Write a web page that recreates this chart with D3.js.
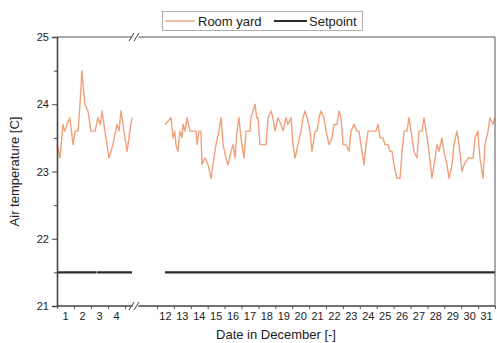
<!DOCTYPE html>
<html>
<head>
<meta charset="utf-8">
<script src="https://cdn.jsdelivr.net/npm/d3@7"></script>
<style>
  body { margin: 0; background: #fff; }
  text { font-family: "Liberation Sans", Arial, sans-serif; fill: #222; }
</style>
</head>
<body>
<figure id="chart" style="margin:0"></figure>
<script>
// Room yard temperature, December 1-5 (day number, value)
const roomDays1 = [1.00, 1.10, 1.18, 1.35, 1.45, 1.59, 1.76, 1.94, 2.06, 2.24, 2.35, 2.47, 2.56, 2.65, 2.82,
  3.00, 3.24, 3.41, 3.55, 3.65, 3.82, 4.06, 4.29, 4.53, 4.65, 4.76, 4.94, 5.12, 5.29, 5.41];
const roomTemp1 = [23.4, 23.3, 23.2, 23.7, 23.6, 23.7, 23.8, 23.4, 23.6, 23.6, 24.0, 24.5, 24.2, 24.0, 23.9,
  23.6, 23.6, 23.8, 23.7, 23.9, 23.6, 23.2, 23.4, 23.7, 23.6, 23.9, 23.6, 23.3, 23.6, 23.8];

// Room yard temperature, December 12-31
const roomDays2 = [12.47, 12.83, 12.95, 13.05, 13.12, 13.24, 13.36, 13.48, 13.54, 13.66, 13.78, 13.95, 14.31, 14.37,
  14.48, 14.60, 14.66, 14.84, 15.02, 15.20, 15.31, 15.49, 15.67, 15.79, 15.91, 16.08, 16.20, 16.38, 16.50, 16.62,
  16.73, 16.85, 16.97, 17.15, 17.27, 17.50, 17.56, 17.68, 17.80, 17.90, 17.98, 18.09, 18.27, 18.45, 18.57, 18.75,
  18.86, 18.98, 19.16, 19.34, 19.46, 19.63, 19.75, 19.93, 20.05, 20.17, 20.34, 20.52, 20.64, 20.76, 20.88, 21.05,
  21.17, 21.35, 21.47, 21.59, 21.70, 21.88, 22.00, 22.18, 22.36, 22.47, 22.65, 22.77, 22.89, 23.01, 23.18, 23.36,
  23.48, 23.66, 23.83, 23.95, 24.07, 24.25, 24.37, 24.49, 24.96, 25.08, 25.20, 25.37, 25.49, 25.67, 25.79, 25.91,
  26.02, 26.20, 26.38, 26.50, 26.62, 26.79, 26.91, 27.09, 27.21, 27.38, 27.50, 27.68, 27.80, 27.98, 28.09, 28.27,
  28.39, 28.57, 28.69, 28.86, 28.98, 29.16, 29.28, 29.46, 29.57, 29.75, 29.87, 30.05, 30.17, 30.41, 30.70, 30.82,
  30.99, 31.11, 31.29, 31.41, 31.59, 31.70, 31.88, 32.00];
const roomTemp2 = [23.7, 23.8, 23.5, 23.6, 23.4, 23.3, 23.6, 23.5, 23.7, 23.6, 23.8, 23.6, 23.6, 23.4,
  23.6, 23.6, 23.1, 23.2, 23.1, 22.9, 23.1, 23.4, 23.6, 23.8, 23.4, 23.2, 23.1, 23.3, 23.4, 23.2,
  23.6, 23.8, 23.5, 23.2, 23.6, 23.6, 23.8, 23.9, 24.0, 23.8, 23.8, 23.4, 23.4, 23.4, 23.8, 23.9,
  23.8, 23.6, 23.8, 23.7, 23.6, 23.8, 23.7, 23.8, 23.4, 23.2, 23.4, 23.6, 23.8, 23.9, 23.8, 23.6,
  23.3, 23.6, 23.6, 23.8, 23.9, 23.8, 23.6, 23.4, 23.5, 23.7, 23.7, 23.9, 23.8, 23.4, 23.4, 23.3,
  23.6, 23.7, 23.6, 23.6, 23.4, 23.1, 23.4, 23.6, 23.6, 23.7, 23.5, 23.5, 23.4, 23.4, 23.3, 23.3,
  23.1, 22.9, 22.9, 23.3, 23.6, 23.6, 23.8, 23.5, 23.3, 23.2, 23.6, 23.6, 23.8, 23.5, 23.3, 22.9,
  23.1, 23.4, 23.3, 23.5, 23.3, 23.1, 22.9, 23.1, 23.4, 23.6, 23.4, 23.0, 23.1, 23.2, 23.2, 23.5,
  23.6, 23.2, 22.9, 23.4, 23.6, 23.8, 23.7, 23.8];

// Setpoint runs (start day, end day, value)
const setpointStart = [1.00, 3.36, 12.47];
const setpointEnd = [3.33, 5.41, 32.00];
const setpointValue = 21.5;

// Axis ticks
const yTicks = [21, 22, 23, 24, 25];
const yMinorTicks = [21.5, 22.5, 23.5, 24.5];
const dayTicks = [1, 2, 3, 4, 5, 12, 13, 14, 15, 16, 17, 18, 19, 20, 21, 22, 23, 24, 25, 26, 27, 28, 29, 30, 31, 32];
const dayLabels = [1, 2, 3, 4, 12, 13, 14, 15, 16, 17, 18, 19, 20, 21, 22, 23, 24, 25, 26, 27, 28, 29, 30, 31];

const width = 497;
const height = 343;
const mLeft = 57, mRight = 495, mTop = 37, mBottom = 306;
const breakX = 133.5;

const svg = d3.select("figure#chart")
  .append("svg")
  .attr("width", width)
  .attr("height", height);

// Broken x scale: Dec 1-5.5, then Dec 12-32
const x = d3.scaleLinear()
  .domain([1, 5.5, 12, 32])
  .range([mLeft, breakX, 157, mRight]);

const y = d3.scaleLinear()
  .domain([21, 25])
  .range([mBottom, mTop]);

// Room yard lines
const line = d3.line()
  .x(d => x(d[0]))
  .y(d => y(d[1]));

[[roomDays1, roomTemp1], [roomDays2, roomTemp2]].forEach(([days, temps]) => {
  svg.append("path")
    .datum(d3.zip(days, temps))
    .attr("fill", "none")
    .attr("stroke", "#f2a07a")
    .attr("stroke-width", 1.4)
    .attr("stroke-linejoin", "round")
    .attr("d", line);
});

// Setpoint lines
svg.selectAll("line.setpoint")
  .data(d3.zip(setpointStart, setpointEnd))
  .enter()
  .append("line")
  .attr("class", "setpoint")
  .attr("x1", d => x(d[0]))
  .attr("x2", d => x(d[1]))
  .attr("y1", y(setpointValue))
  .attr("y2", y(setpointValue))
  .attr("stroke", "#2b2b2b")
  .attr("stroke-width", 2.4);

// Left axis
const yAxis = svg.append("g")
  .attr("transform", "translate(" + mLeft + ",0)")
  .call(d3.axisLeft(y).tickValues(yTicks).tickFormat(d3.format("d")).tickSize(5).tickPadding(3));
yAxis.append("g")
  .call(d3.axisLeft(y).tickValues(yMinorTicks).tickFormat("").tickSize(3))
  .select(".domain").remove();
yAxis.select(".domain").attr("stroke", "#444").attr("stroke-width", 1.6);
yAxis.selectAll(".tick line").attr("stroke", "#444");
yAxis.selectAll("text").style("font-size", "11px");

// Bottom axis: tick marks at day boundaries, labels mid-day
const xAxis = svg.append("g")
  .attr("transform", "translate(0," + mBottom + ")")
  .call(d3.axisBottom(x).tickValues(dayTicks).tickFormat("").tickSize(3).tickSizeOuter(0));
xAxis.select(".domain").remove();
xAxis.selectAll(".tick line").attr("stroke", "#555");

svg.append("g")
  .selectAll("text")
  .data(dayLabels)
  .enter()
  .append("text")
  .attr("x", d => x(d + 0.5))
  .attr("y", mBottom + 14)
  .attr("text-anchor", "middle")
  .style("font-size", "11px")
  .text(d => d);

// Frame with gaps for the axis break
const frame = [
  [mLeft, mBottom, breakX - 1, mBottom], [breakX + 5, mBottom, mRight, mBottom],
  [mLeft, mTop, breakX - 1, mTop], [breakX + 5, mTop, mRight, mTop],
  [mRight, mTop, mRight, mBottom]
];
svg.selectAll("line.frame")
  .data(frame)
  .enter()
  .append("line")
  .attr("class", "frame")
  .attr("x1", d => d[0]).attr("y1", d => d[1])
  .attr("x2", d => d[2]).attr("y2", d => d[3])
  .attr("stroke", d => d[1] === mBottom && d[3] === mBottom ? "#444" : "#555")
  .attr("stroke-width", d => d[1] === mBottom && d[3] === mBottom ? 1.4 : 1);

// Break marks "//"
[mTop, mBottom].forEach(yy => {
  [breakX - 2, breakX + 3].forEach(xx => {
    svg.append("line")
      .attr("x1", xx - 2.5).attr("y1", yy + 4)
      .attr("x2", xx + 2.5).attr("y2", yy - 4)
      .attr("stroke", "#444")
      .attr("stroke-width", 1);
  });
});

// Axis titles
svg.append("text")
  .attr("transform", "translate(19," + ((mTop + mBottom) / 2) + ") rotate(-90)")
  .attr("text-anchor", "middle")
  .style("font-size", "13px")
  .text("Air temperature [C]");

svg.append("text")
  .attr("x", (mLeft + mRight) / 2)
  .attr("y", 339)
  .attr("text-anchor", "middle")
  .style("font-size", "13px")
  .text("Date in December [-]");

// Legend
const legend = svg.append("g");
legend.append("rect")
  .attr("x", 162.5).attr("y", 11.5)
  .attr("width", 200).attr("height", 19)
  .attr("fill", "#fff")
  .attr("stroke", "#999")
  .attr("stroke-width", 0.8);
legend.append("line")
  .attr("x1", 165).attr("x2", 195).attr("y1", 21).attr("y2", 21)
  .attr("stroke", "#f2a07a").attr("stroke-width", 1.4);
legend.append("text")
  .attr("x", 198).attr("y", 25.5)
  .style("font-size", "13px")
  .text("Room yard");
legend.append("line")
  .attr("x1", 274).attr("x2", 307).attr("y1", 21).attr("y2", 21)
  .attr("stroke", "#2b2b2b").attr("stroke-width", 2);
legend.append("text")
  .attr("x", 309).attr("y", 25.5)
  .style("font-size", "13px")
  .text("Setpoint");
</script>
</body>
</html>
